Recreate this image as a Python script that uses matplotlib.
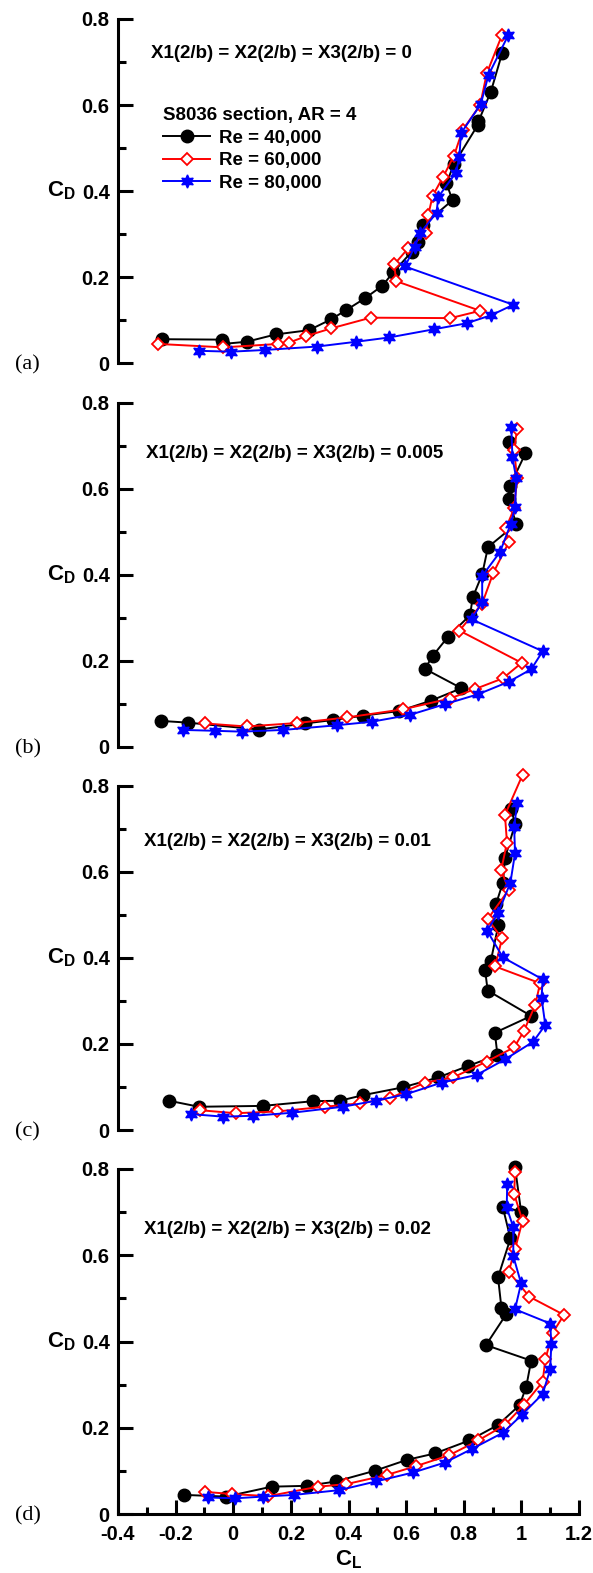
import matplotlib
matplotlib.use("Agg")
import matplotlib.pyplot as plt
from matplotlib.ticker import MultipleLocator, FuncFormatter

plt.rcParams["font.family"] = ["Liberation Sans", "DejaVu Sans"]
plt.rcParams["font.weight"] = "bold"
plt.rcParams["mathtext.fontset"] = "custom"
plt.rcParams["mathtext.rm"] = "Liberation Sans:bold"
plt.rcParams["mathtext.bf"] = "Liberation Sans:bold"

# ---- data: C_L / C_D for each tab spacing ----
# (a) X/(b/2) = 0
cl_a_40 = [-0.248, -0.038, -0.036, 0.046, 0.147, 0.263, 0.339, 0.393, 0.457, 0.517, 0.555,
           0.619, 0.642, 0.659, 0.761, 0.740, 0.766, 0.849, 0.851, 0.894, 0.933]
cd_a_40 = [0.056, 0.055, 0.045, 0.050, 0.067, 0.077, 0.102, 0.124, 0.151, 0.180, 0.211,
           0.259, 0.283, 0.321, 0.379, 0.418, 0.463, 0.554, 0.562, 0.631, 0.720]
cl_a_60 = [-0.260, -0.035, 0.156, 0.194, 0.252, 0.339, 0.477, 0.754, 0.857, 0.565, 0.559,
           0.607, 0.669, 0.677, 0.692, 0.729, 0.766, 0.796, 0.857, 0.880, 0.933]
cd_a_60 = [0.045, 0.037, 0.045, 0.048, 0.063, 0.081, 0.106, 0.105, 0.122, 0.191, 0.230,
           0.267, 0.302, 0.345, 0.389, 0.434, 0.482, 0.542, 0.600, 0.674, 0.763]
cl_a_80 = [-0.118, -0.008, 0.110, 0.292, 0.426, 0.541, 0.696, 0.810, 0.896, 0.972, 0.596,
           0.630, 0.648, 0.706, 0.711, 0.773, 0.785, 0.790, 0.859, 0.886, 0.955]
cd_a_80 = [0.029, 0.027, 0.031, 0.039, 0.050, 0.060, 0.079, 0.093, 0.112, 0.136, 0.225,
           0.271, 0.302, 0.350, 0.386, 0.443, 0.480, 0.534, 0.602, 0.670, 0.763]

# (b) X/(b/2) = 0.005
cl_b_40 = [-0.251, -0.158, 0.089, 0.249, 0.345, 0.449, 0.576, 0.686, 0.792, 0.665, 0.692,
           0.746, 0.822, 0.831, 0.864, 0.884, 0.982, 0.956, 0.960, 1.014, 0.956]
cd_b_40 = [0.060, 0.056, 0.040, 0.054, 0.062, 0.072, 0.083, 0.107, 0.136, 0.181, 0.211,
           0.256, 0.306, 0.347, 0.401, 0.464, 0.518, 0.576, 0.606, 0.682, 0.709]
cl_b_60 = [-0.097, 0.046, 0.220, 0.394, 0.590, 0.752, 0.839, 0.936, 1.001, 0.785, 0.864,
           0.903, 0.956, 0.946, 0.975, 0.985, 0.975, 0.985]
cd_b_60 = [0.054, 0.047, 0.055, 0.068, 0.087, 0.112, 0.134, 0.159, 0.195, 0.270, 0.333,
           0.405, 0.475, 0.508, 0.554, 0.624, 0.690, 0.738]
cl_b_80 = [-0.173, -0.064, 0.029, 0.174, 0.361, 0.480, 0.613, 0.735, 0.850, 0.956, 1.034,
           1.074, 0.828, 0.864, 0.864, 0.926, 0.963, 0.978, 0.982, 0.969, 0.965]
cd_b_80 = [0.039, 0.037, 0.035, 0.039, 0.050, 0.058, 0.074, 0.099, 0.122, 0.151, 0.180,
           0.222, 0.296, 0.337, 0.397, 0.453, 0.518, 0.558, 0.624, 0.673, 0.743]

# (c) X/(b/2) = 0.01
cl_c_40 = [-0.223, -0.119, 0.102, 0.278, 0.370, 0.451, 0.588, 0.711, 0.816, 0.917, 0.908,
           1.034, 0.883, 0.874, 0.894, 0.920, 0.912, 0.936, 0.943, 0.978, 0.965]
cd_c_40 = [0.068, 0.054, 0.056, 0.067, 0.068, 0.081, 0.099, 0.122, 0.149, 0.174, 0.226,
           0.265, 0.324, 0.372, 0.393, 0.476, 0.525, 0.575, 0.631, 0.711, 0.745]
cl_c_60 = [-0.116, 0.009, 0.151, 0.318, 0.440, 0.544, 0.665, 0.763, 0.879, 0.975, 1.008,
           1.048, 1.065, 0.909, 0.933, 0.883, 0.956, 0.930, 0.950, 0.943, 1.004]
cd_c_60 = [0.046, 0.039, 0.043, 0.054, 0.062, 0.074, 0.110, 0.122, 0.159, 0.192, 0.229,
           0.290, 0.341, 0.380, 0.445, 0.490, 0.558, 0.604, 0.668, 0.732, 0.825]
cl_c_80 = [-0.147, -0.035, 0.067, 0.203, 0.380, 0.495, 0.599, 0.723, 0.845, 0.943, 1.041,
           1.083, 1.070, 1.074, 0.936, 0.881, 0.920, 0.962, 0.978, 0.975, 0.985]
cd_c_80 = [0.037, 0.031, 0.033, 0.040, 0.054, 0.068, 0.083, 0.110, 0.128, 0.164, 0.205,
           0.244, 0.307, 0.350, 0.401, 0.463, 0.505, 0.575, 0.643, 0.703, 0.759]

# (d) X/(b/2) = 0.02
cl_d_40 = [-0.171, -0.025, 0.133, 0.257, 0.356, 0.492, 0.602, 0.700, 0.819, 0.919, 0.994,
           1.017, 1.034, 0.877, 0.948, 0.931, 0.919, 0.962, 0.935, 0.999, 0.978]
cd_d_40 = [0.045, 0.041, 0.064, 0.066, 0.076, 0.101, 0.126, 0.141, 0.171, 0.207, 0.253,
           0.296, 0.356, 0.392, 0.464, 0.477, 0.549, 0.639, 0.713, 0.701, 0.804]
cl_d_60 = [-0.098, -0.006, 0.121, 0.295, 0.393, 0.532, 0.636, 0.750, 0.850, 0.943, 1.008,
           1.074, 1.083, 1.109, 1.148, 1.028, 0.956, 0.978, 1.004, 0.975, 0.978]
cd_d_60 = [0.052, 0.047, 0.042, 0.064, 0.070, 0.091, 0.112, 0.137, 0.171, 0.207, 0.253,
           0.307, 0.359, 0.421, 0.462, 0.504, 0.562, 0.614, 0.680, 0.742, 0.794]
cl_d_80 = [-0.089, 0.006, 0.102, 0.212, 0.368, 0.495, 0.625, 0.735, 0.827, 0.936, 1.001,
           1.074, 1.100, 1.104, 1.100, 0.978, 0.999, 0.972, 0.972, 0.949, 0.951]
cd_d_80 = [0.039, 0.037, 0.041, 0.045, 0.056, 0.076, 0.097, 0.120, 0.151, 0.189, 0.230,
           0.279, 0.336, 0.395, 0.442, 0.475, 0.535, 0.598, 0.665, 0.711, 0.765]

panel_tags = ["(a)", "(b)", "(c)", "(d)"]
spacing_texts = ["X1(2/b) = X2(2/b) = X3(2/b) = 0",
                 "X1(2/b) = X2(2/b) = X3(2/b) = 0.005",
                 "X1(2/b) = X2(2/b) = X3(2/b) = 0.01",
                 "X1(2/b) = X2(2/b) = X3(2/b) = 0.02"]
re_labels = ["Re = 40,000", "Re = 60,000", "Re = 80,000"]

panels = [
    [(cl_a_40, cd_a_40), (cl_a_60, cd_a_60), (cl_a_80, cd_a_80)],
    [(cl_b_40, cd_b_40), (cl_b_60, cd_b_60), (cl_b_80, cd_b_80)],
    [(cl_c_40, cd_c_40), (cl_c_60, cd_c_60), (cl_c_80, cd_c_80)],
    [(cl_d_40, cd_d_40), (cl_d_60, cd_d_60), (cl_d_80, cd_d_80)],
]

W, H = 593, 1573
fig = plt.figure(figsize=(W / 100, H / 100), dpi=100)

# pixel geometry of each panel (top of 0.8, bottom at 0)
left_px, right_px = 118, 579
panel_px = [(19, 363.3), (402.7, 746.7), (785.7, 1130), (1169, 1514.3)]
text_pos = [(-0.285, 0.720), (-0.304, 0.681), (-0.311, 0.670), (-0.311, 0.659)]

styles = [
    dict(color="black", marker="o", ms=9, mfc="black", mec="black", lw=1.4),
    dict(color="red", marker="D", ms=5.8, mfc="white", mec="red", mew=1.3, lw=1.4),
    dict(color="blue", marker=(6, 1, 0), ms=9.5, mfc="blue", mec="blue", lw=1.4),
]

fmt = FuncFormatter(lambda v, p: "%g" % round(v, 2))

for i, (top, bot) in enumerate(panel_px):
    ax = fig.add_axes([left_px / W, 1 - bot / H, (right_px - left_px) / W, (bot - top) / H])
    lines = []
    for (cl, cd), st, lab in zip(panels[i], styles, re_labels):
        ln, = ax.plot(cl, cd, label=lab, clip_on=False, **st)
        lines.append(ln)

    ax.set_xlim(-0.4, 1.2)
    ax.set_ylim(0, 0.8)
    ax.spines["top"].set_visible(False)
    ax.spines["right"].set_visible(False)
    ax.spines["left"].set_linewidth(2.2)
    ax.yaxis.set_major_locator(MultipleLocator(0.2))
    ax.yaxis.set_minor_locator(MultipleLocator(0.1))
    ax.yaxis.set_major_formatter(fmt)
    ax.tick_params(axis="y", which="major", direction="in", length=11, width=2.2,
                   labelsize=14.5, pad=6)
    ax.tick_params(axis="y", which="minor", direction="in", length=6, width=2.2)

    if i < 3:
        ax.spines["bottom"].set_visible(False)
        ax.set_xticks([])
    else:
        ax.spines["bottom"].set_linewidth(2.2)
        ax.xaxis.set_major_locator(MultipleLocator(0.2))
        ax.xaxis.set_minor_locator(MultipleLocator(0.1))
        ax.xaxis.set_major_formatter(fmt)
        ax.tick_params(axis="x", which="major", direction="in", length=10, width=2.2,
                       labelsize=14.5, pad=8)
        ax.tick_params(axis="x", which="minor", direction="in", length=5, width=2.2)
        ax.set_xlabel(r"$\mathbf{C_L}$", fontsize=16, labelpad=3)

    for lab in ax.get_xticklabels() + ax.get_yticklabels():
        lab.set_fontweight("bold")

    # C_D label next to the 0.4 tick label
    ax.text(-0.154, 0.4, r"$\mathbf{C_D}$", transform=ax.get_yaxis_transform(),
            fontsize=16, ha="left", va="center")

    tx, ty = text_pos[i]
    ax.text(tx, ty, spacing_texts[i], fontsize=13.5, fontweight="bold",
            ha="left", va="center")

    fig.text(15 / W, 1 - (bot + 2) / H, panel_tags[i], family="Liberation Serif",
             fontweight="normal", fontsize=16, ha="left", va="center")

    if i == 0:
        leg = ax.legend(handles=lines, loc="upper left", bbox_to_anchor=(0.098, 0.745),
                        frameon=False, title="S8036 section, AR = 4",
                        prop=dict(size=13.5, weight="bold"),
                        title_fontproperties=dict(size=13.5, weight="bold"),
                        handlelength=2.5, handletextpad=0.5, labelspacing=0.3,
                        borderpad=0, borderaxespad=0, alignment="left")

fig.savefig("out.png", dpi=100)
